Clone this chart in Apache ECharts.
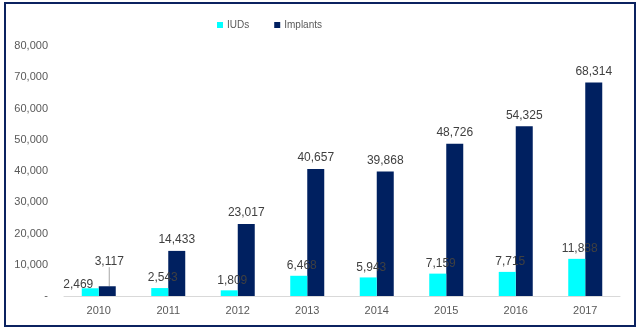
<!DOCTYPE html>
<html>
<head>
<meta charset="utf-8">
<script src="https://cdn.jsdelivr.net/npm/echarts@6/dist/echarts.min.js"></script>
<style>
html,body{margin:0;padding:0;background:#fff;}
#c{width:644px;height:331px;}
</style>
</head>
<body>
<div id="c"></div>
<script>
var years = ['2010','2011','2012','2013','2014','2015','2016','2017'];
var iuds = [2469, 2543, 1809, 6468, 5943, 7159, 7715, 11888];
var implants = [3117, 14433, 23017, 40657, 39868, 48726, 54325, 68314];
var seriesNames = ['IUDs', 'Implants'];
var yTicks = {min: 0, max: 80000, interval: 10000};

var FONT = '"Liberation Sans", Arial, sans-serif';
function fmt(v){ return v.toLocaleString('en-US'); }

var chart = echarts.init(document.getElementById('c'), null, {renderer:'canvas'});
chart.setOption({
  animation: false,
  backgroundColor: '#fff',
  textStyle: {fontFamily: FONT},
  graphic: [{
    type: 'rect', silent: true, z: 100,
    shape: {x: 5, y: 3, width: 630, height: 323},
    style: {fill: 'none', stroke: '#0b2260', lineWidth: 2}
  }],
  legend: {
    data: seriesNames,
    left: 212, top: 15,
    itemWidth: 6, itemHeight: 6, itemGap: 25,
    icon: 'rect',
    textStyle: {color: '#595959', fontSize: 10, fontFamily: FONT, padding: [0,0,0,-1]}
  },
  grid: {left: 64, right: 24, top: 46, bottom: 35, containLabel: false},
  xAxis: {
    type: 'category', data: years,
    axisLine: {lineStyle: {color: '#d9d9d9'}},
    axisTick: {show: false},
    axisLabel: {color: '#595959', fontSize: 11, fontFamily: FONT, margin: 9}
  },
  yAxis: {
    type: 'value', min: yTicks.min, max: yTicks.max, interval: yTicks.interval,
    splitLine: {show: false},
    axisLine: {show: false}, axisTick: {show: false},
    axisLabel: {color: '#595959', fontSize: 11, fontFamily: FONT, margin: 16,
      formatter: function(v){ return v === 0 ? '-' : fmt(v); }}
  },
  series: [{
    name: seriesNames[0], type: 'bar', data: iuds.map(function(v, i){
      var d = {value: v};
      if (i === 0) d.label = {offset: [-12, 6]};
      return d;
    }),
    barWidth: 17, barGap: '0%', z: 3,
    itemStyle: {color: '#00ffff'},
    label: {show: true, position: 'top', distance: 4, offset: [3, 0], color: '#404040', fontSize: 12, fontFamily: FONT,
      formatter: function(p){ return fmt(p.value); }}
  }, {
    name: seriesNames[1], type: 'bar', data: implants.map(function(v, i){
      var d = {value: v};
      if (i === 0) d.labelLine = {show: true};
      return d;
    }),
    barWidth: 17, z: 2,
    itemStyle: {color: '#002060'},
    label: {show: true, position: 'top', distance: 5, color: '#404040', fontSize: 12, fontFamily: FONT,
      formatter: function(p){ return fmt(p.value); }},
    labelLine: {show: false, length2: 0, lineStyle: {color: '#a6a6a6', width: 1}},
    labelLayout: function(p){
      if (p.dataIndex === 0) return {dx: 2, dy: -14};
      return {};
    }
  }]
});
</script>
</body>
</html>
